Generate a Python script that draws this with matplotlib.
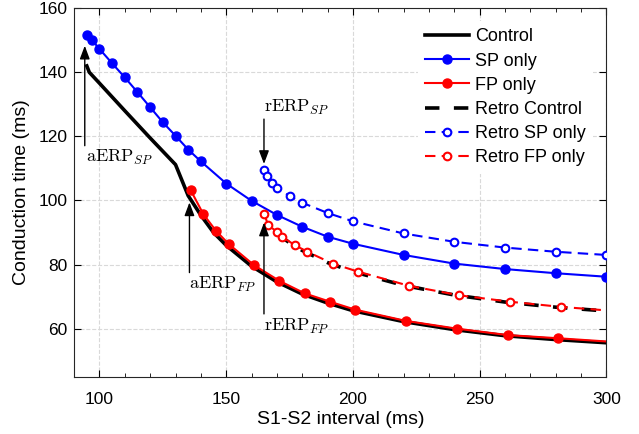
import matplotlib.pyplot as plt
from matplotlib.ticker import MultipleLocator

plt.rcParams['font.family'] = ['Liberation Sans', 'DejaVu Sans']
plt.rcParams['mathtext.fontset'] = 'cm'

# values
ctrl_x = [95, 96, 100, 110, 120, 130, 135, 140, 145, 150, 160, 170, 180, 190, 200, 220, 240, 260, 280, 300]
ctrl_y = [142, 140, 136.6, 128, 119.5, 111.2, 101.5, 95.4, 90.0, 86.0, 79.5, 74.6, 70.8, 68.0, 65.6, 62.2, 59.7, 57.8, 56.6, 55.6]

sp_x = [95, 97, 100, 105, 110, 115, 120, 125, 130, 135, 140, 150, 160, 170, 180, 190, 200, 220, 240, 260, 280, 300]
sp_y = [151.8, 150.1, 147.3, 142.8, 138.4, 133.8, 129.1, 124.4, 120.2, 115.9, 112.2, 105.3, 99.9, 95.5, 91.8, 88.7, 86.5, 83.0, 80.3, 78.6, 77.3, 76.2]

fp_x = [136, 141, 146, 151, 161, 171, 181, 191, 201, 221, 241, 261, 281, 300]
fp_y = [103.2, 95.7, 90.5, 86.4, 79.8, 74.9, 71.0, 68.4, 65.9, 62.4, 60.0, 58.0, 57.0, 56.0]

rctrl_x = [170, 175, 180, 190, 200, 220, 240, 260, 280, 300]
rctrl_y = [89.6, 86.8, 84.4, 80.6, 77.8, 73.5, 70.5, 68.3, 66.7, 65.5]

rsp_x = [165, 166, 168, 170, 175, 180, 190, 200, 220, 240, 260, 280, 300]
rsp_y = [109.6, 107.6, 105.6, 103.9, 101.4, 99.3, 96.1, 93.5, 89.7, 87.1, 85.3, 84.0, 83.0]

rfp_x = [165, 166.5, 170, 172, 177, 182, 192, 202, 222, 242, 262, 282, 300]
rfp_y = [95.8, 92.4, 90.2, 88.7, 86.1, 84.0, 80.3, 77.8, 73.4, 70.4, 68.4, 66.8, 65.7]

fig = plt.figure(figsize=(6.39, 4.34), dpi=100)
ax = fig.add_axes([0.116, 0.132, 0.833, 0.849])

ax.plot(ctrl_x, ctrl_y, color='k', lw=2.6, label='Control', zorder=3)
ax.plot(sp_x, sp_y, color='b', lw=1.5, marker='o', ms=6.5, label='SP only', zorder=4)
ax.plot(fp_x, fp_y, color='r', lw=1.5, marker='o', ms=6.5, markevery=list(range(len(fp_x) - 1)),
        label='FP only', zorder=4)
ax.plot(rctrl_x, rctrl_y, color='k', lw=2.6, dashes=(4, 4), label='Retro Control', zorder=3)
ax.plot(rsp_x, rsp_y, color='b', lw=1.5, dashes=(5, 3), marker='o', ms=5.5, mfc='white', mew=1.5,
        label='Retro SP only', zorder=4)
ax.plot(rfp_x, rfp_y, color='r', lw=1.5, dashes=(5, 3), marker='o', ms=5.5, mfc='white', mew=1.5,
        markevery=list(range(len(rfp_x) - 1)), label='Retro FP only', zorder=4)

arrow = dict(arrowstyle='-|>,head_length=0.8,head_width=0.3', lw=1.0, color='k',
             shrinkA=0, shrinkB=0)
ax.annotate('', xy=(94.2, 148.3), xytext=(94.2, 117.1), arrowprops=arrow, zorder=5)
ax.text(94.6, 113.3, r'$\mathrm{aERP}_{SP}$', fontsize=13, ha='left', va='center')
ax.annotate('', xy=(135.5, 99.4), xytext=(135.5, 77.5), arrowprops=arrow, zorder=5)
ax.text(135.5, 73.9, r'$\mathrm{aERP}_{FP}$', fontsize=13, ha='left', va='center')
ax.annotate('', xy=(164.9, 93.1), xytext=(164.9, 64.6), arrowprops=arrow, zorder=5)
ax.text(164.9, 60.8, r'$\mathrm{rERP}_{FP}$', fontsize=13, ha='left', va='center')
ax.annotate('', xy=(164.9, 111.4), xytext=(164.9, 125.4), arrowprops=arrow, zorder=5)
ax.text(165.1, 129.0, r'$\mathrm{rERP}_{SP}$', fontsize=13, ha='left', va='center')

ax.set_xlim(90, 300)
ax.set_ylim(45, 160)
ax.set_xticks([100, 150, 200, 250, 300])
ax.set_yticks([60, 80, 100, 120, 140, 160])
ax.xaxis.set_minor_locator(MultipleLocator(10))
ax.tick_params(which='both', direction='in', top=True, right=True, labelsize=12.5)
ax.tick_params(axis='x', pad=11)
ax.tick_params(axis='y', pad=5)
ax.tick_params(which='major', length=5)
ax.tick_params(which='minor', length=3)
ax.grid(True, which='major', ls='--', color='#d9d9d9', lw=0.8)
ax.set_axisbelow(True)
for s in ax.spines.values():
    s.set_linewidth(0.8)
    s.set_color('#262626')

ax.set_xlabel('S1-S2 interval (ms)', fontsize=14, labelpad=3)
ax.set_ylabel('Conduction time (ms)', fontsize=14, labelpad=6)

leg = ax.legend(loc='upper right', bbox_to_anchor=(0.975, 0.965), fontsize=13, frameon=True,
                framealpha=1, edgecolor='none', fancybox=False, numpoints=1,
                handlelength=2.4, handletextpad=0.35, labelspacing=0.4, borderaxespad=0)

fig.savefig('out.png', dpi=100)
